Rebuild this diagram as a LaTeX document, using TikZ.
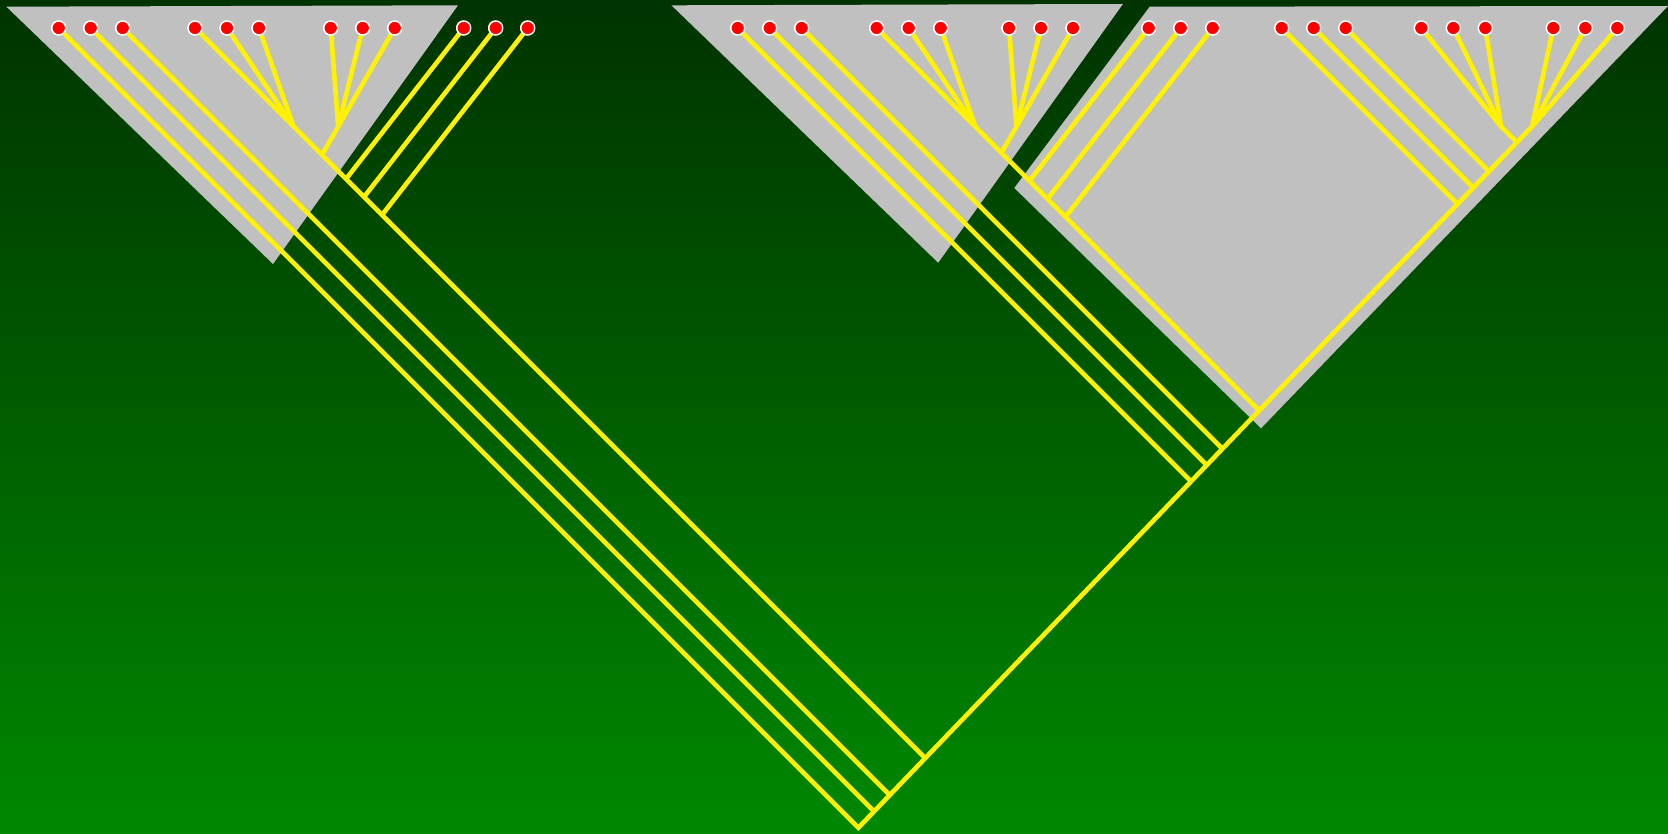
\documentclass[tikz,border=0pt]{standalone}
\pgfdeclarelayer{bg}
\pgfdeclarelayer{lines}
\pgfsetlayers{bg,lines,main}
\definecolor{topgreen}{RGB}{0,51,0}
\definecolor{botgreen}{RGB}{0,136,0}
\definecolor{panel}{RGB}{192,192,192}
\tikzset{
  leaf/.style={circle, fill=red, draw=white, line width=1.5pt, minimum size=14pt, inner sep=0pt},
  branch/.style={draw=yellow, line width=4.6pt, line join=miter},
  clade/.style={fill=panel, draw=none},
}
\begin{document}
\begin{tikzpicture}[x=1pt,y=-1pt]
\useasboundingbox (0,0) rectangle (1668,834);
\begin{pgfonlayer}{bg}
\shade[top color=topgreen,bottom color=botgreen] (0,0) rectangle (1668,834);
\fill[clade] (6.4,6.7) -- (458,5.3) -- (273,264) -- cycle;
\fill[clade] (671.4,5.3) -- (1122.9,4) -- (938.2,262.7) -- cycle;
\fill[clade] (1014.3,188) -- (1149.7,6.7) -- (1668,6) -- (1261,428.3) -- cycle;
\end{pgfonlayer}

\foreach \g/\x in {0/58.7,1/195,2/330.7,3/463.7,4/737.7,5/876.7,6/1009,7/1148.7,8/1281.7,9/1421.3,10/1553.3}
  \foreach \j in {0,1,2}
    \node[leaf] (d\g-\j) at ({\x+32*\j},28) {};

\coordinate (R) at (858.4,827.7);
\coordinate (J10) at (1532,126.5);
\coordinate (S01) at (874.1,811.4);
\coordinate (S02) at (889.8,795.1);
\coordinate (J1) at (293.5,126.5);
\coordinate (S1) at (925.2,758.2);
\coordinate (J2) at (338.2,126.5);
\coordinate (E2) at (321.9,154.9);
\coordinate (E30) at (346,179);
\coordinate (E31) at (364,197);
\coordinate (E32) at (382,215);
\coordinate (S40) at (1191.1,481.4);
\coordinate (S41) at (1206.8,465.1);
\coordinate (S42) at (1222.4,448.7);
\coordinate (J5) at (975.2,126.5);
\coordinate (S5) at (1259.2,410.5);
\coordinate (J6) at (1016.5,126.5);
\coordinate (E6) at (1001.4,152.7);
\coordinate (E70) at (1029.5,180.8);
\coordinate (E71) at (1047.5,198.8);
\coordinate (E72) at (1065.5,216.8);
\coordinate (S80) at (1457.6,203.9);
\coordinate (S81) at (1473.3,187.6);
\coordinate (S82) at (1489.0,171.3);
\coordinate (J9) at (1501,126.5);
\coordinate (S9) at (1516.8,142.3);

\begin{pgfonlayer}{lines}
% spine
\draw[branch] (d0-0.center) -- (R) -- (J10) -- (d10-2.center);
\draw[branch] (d0-1.center) -- (S01);
\draw[branch] (d0-2.center) -- (S02);
% left clade
\draw[branch] (d1-0.center) -- (J1) -- (S1);
\draw[branch] (d1-1.center) -- (J1);
\draw[branch] (d1-2.center) -- (J1);
\draw[branch] (d2-0.center) -- (J2);
\draw[branch] (d2-1.center) -- (J2);
\draw[branch] (d2-2.center) -- (J2) -- (E2);
\draw[branch] (d3-0.center) -- (E30);
\draw[branch] (d3-1.center) -- (E31);
\draw[branch] (d3-2.center) -- (E32);
% middle
\draw[branch] (d4-0.center) -- (S40);
\draw[branch] (d4-1.center) -- (S41);
\draw[branch] (d4-2.center) -- (S42);
\draw[branch] (d5-0.center) -- (J5) -- (S5);
\draw[branch] (d5-1.center) -- (J5);
\draw[branch] (d5-2.center) -- (J5);
\draw[branch] (d6-0.center) -- (J6);
\draw[branch] (d6-1.center) -- (J6);
\draw[branch] (d6-2.center) -- (J6) -- (E6);
\draw[branch] (d7-0.center) -- (E70);
\draw[branch] (d7-1.center) -- (E71);
\draw[branch] (d7-2.center) -- (E72);
% right
\draw[branch] (d8-0.center) -- (S80);
\draw[branch] (d8-1.center) -- (S81);
\draw[branch] (d8-2.center) -- (S82);
\draw[branch] (d9-0.center) -- (J9);
\draw[branch] (d9-1.center) -- (J9);
\draw[branch] (d9-2.center) -- (J9) -- (S9);
\draw[branch] (d10-0.center) -- (J10);
\draw[branch] (d10-1.center) -- (J10);
\end{pgfonlayer}
\end{tikzpicture}
\end{document}
